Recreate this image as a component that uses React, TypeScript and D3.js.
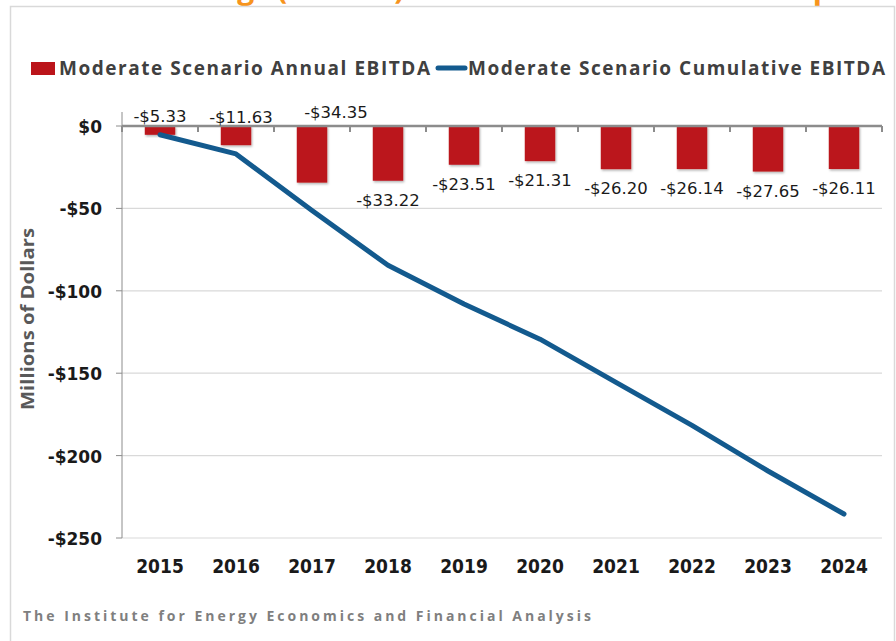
import * as d3 from 'd3';

const years = ['2015', '2016', '2017', '2018', '2019', '2020', '2021', '2022', '2023', '2024'];
const annual = [-5.33, -11.63, -34.35, -33.22, -23.51, -21.31, -26.2, -26.14, -27.65, -26.11];
const cumulative = [-5.33, -16.96, -51.31, -84.53, -108.04, -129.35, -155.55, -181.69, -209.34, -235.45];
const yTicks = [0, -50, -100, -150, -200, -250];
// first three labels sit above the axis in the original
const labelAbove = [true, true, true, false, false, false, false, false, false, false];

const RED = '#BB141A';
const BLUE = '#135A8E';
const GRID = '#d9d9d9';
const AXIS = '#8c8c8c';

const App = () => {
  const width = 896;
  const height = 641;
  const plotLeft = 122;
  const plotRight = 882;
  const plotTop = 126;
  const plotBottom = 538;

  const xScale = d3.scaleBand().domain(years).range([plotLeft, plotRight]).padding(0);
  const barScale = d3.scaleBand().domain(years).range([plotLeft, plotRight]).paddingInner(0.6).paddingOuter(0.3);
  const yScale = d3.scaleLinear().domain([-250, 0]).range([plotBottom, plotTop]);

  const cx = (y: string) => (xScale(y) ?? 0) + xScale.bandwidth() / 2;

  const line = d3.line<number>()
    .x((_, i) => cx(years[i]))
    .y(d => yScale(d));

  const fmt = (v: number) => '-$' + Math.abs(v).toFixed(2);
  const fmtTick = (v: number) => (v < 0 ? '-$' : '$') + Math.abs(v);

  const boundaries = d3.range(years.length + 1).map(i => plotLeft + i * xScale.step());

  // hand-moved labels in the source chart (dx, dy nudges)
  const nudge = (i: number) => (i === 1 ? [5, -3] : i === 2 ? [24, -8] : [0, -4]);

  return (
    <svg width={width} height={height} style={{ position: 'absolute', left: 0, top: 0, background: '#fff' }}>
      <defs>
        <filter id="shadow" x="-20%" y="-20%" width="150%" height="150%">
          <feDropShadow dx="1" dy="1.5" stdDeviation="1" floodColor="#000" floodOpacity="0.3" />
        </filter>
      </defs>
      {/* cut-off title from the slide above */}
      <text x={452} y={-1} textAnchor="middle" fontFamily="Open Sans" fontWeight={700} fontSize={30} fill="#F7941D">
        Annual Earnings (EBITDA) for the Moderate Scenario plan
      </text>
      <rect x={10.5} y={6.5} width={884} height={660} fill="#fff" stroke={GRID} strokeWidth={1.5} />

      {/* legend */}
      <rect x={31} y={62} width={24} height={13} fill={RED} />
      <text x={59} y={75} fontFamily="Open Sans" fontWeight={700} fontSize={19} fill="#404040"
        textLength={371} lengthAdjust="spacing">Moderate Scenario Annual EBITDA</text>
      <line x1={438} x2={465} y1={68} y2={68} stroke={BLUE} strokeWidth={5} strokeLinecap="round" />
      <text x={468} y={75} fontFamily="Open Sans" fontWeight={700} fontSize={19} fill="#404040"
        textLength={417} lengthAdjust="spacing">Moderate Scenario Cumulative EBITDA</text>

      {/* gridlines */}
      {yTicks.filter(t => t !== 0).map(t => (
        <line key={t} x1={plotLeft} x2={plotRight} y1={yScale(t)} y2={yScale(t)} stroke={GRID} strokeWidth={1.2} />
      ))}

      {/* y axis */}
      <line x1={plotLeft} x2={plotLeft} y1={112} y2={plotBottom} stroke={AXIS} strokeWidth={1} />
      {yTicks.map(t => (
        <g key={t}>
          <line x1={plotLeft - 6} x2={plotLeft} y1={yScale(t)} y2={yScale(t)} stroke={AXIS} strokeWidth={1} />
          <text x={102} y={yScale(t) + 7} textAnchor="end" fontFamily="DejaVu Sans" fontWeight={700}
            fontSize={17} fill="#1a1a1a">{fmtTick(t)}</text>
        </g>
      ))}
      <text transform={`translate(34, ${(plotTop + plotBottom) / 2 - 13}) rotate(-90)`} textAnchor="middle"
        fontFamily="Open Sans" fontWeight={700} fontSize={17} fill="#595959" textLength={182}
        lengthAdjust="spacingAndGlyphs">Millions of Dollars</text>

      {/* bars */}
      {annual.map((v, i) => (
        <rect key={years[i]} x={barScale(years[i])} y={yScale(0)} width={barScale.bandwidth()}
          height={yScale(v) - yScale(0)} fill={RED} filter="url(#shadow)" />
      ))}

      {/* x axis at zero */}
      <line x1={plotLeft} x2={plotRight} y1={yScale(0)} y2={yScale(0)} stroke={AXIS} strokeWidth={2.5} />
      {boundaries.map((b, i) => (
        <line key={i} x1={b} x2={b} y1={yScale(0)} y2={yScale(0) + 6} stroke={AXIS} strokeWidth={2} />
      ))}

      {/* cumulative line */}
      <path d={line(cumulative) ?? ''} fill="none" stroke={BLUE} strokeWidth={5} strokeLinecap="round"
        strokeLinejoin="round" />

      {/* data labels */}
      {annual.map((v, i) => (
        <text key={years[i]} x={cx(years[i]) + (labelAbove[i] ? nudge(i)[0] : 0)}
          y={labelAbove[i] ? yScale(0) + nudge(i)[1] : yScale(v) + 25}
          textAnchor="middle" fontFamily="DejaVu Sans" fontSize={16.5} fill="#1a1a1a">{fmt(v)}</text>
      ))}

      {/* year labels */}
      {years.map(y => (
        <text key={y} x={cx(y)} y={573} textAnchor="middle" fontFamily="'Liberation Sans Narrow', 'DejaVu Sans Condensed', 'DejaVu Sans'"
          fontStretch="condensed" fontWeight={700} fontSize={19} fill="#1a1a1a">{y}</text>
      ))}

      <text x={23} y={621} fontFamily="Open Sans" fontWeight={700} fontSize={14} fill="#7f7f7f"
        textLength={568} lengthAdjust="spacing">The Institute for Energy Economics and Financial Analysis</text>
    </svg>
  );
};

export default App;
